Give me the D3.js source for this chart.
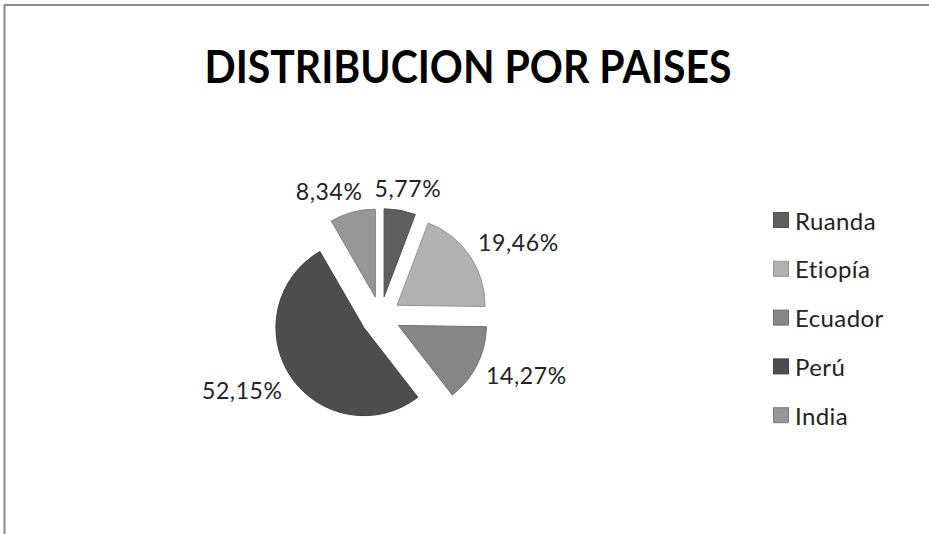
<!DOCTYPE html>
<html>
<head>
<meta charset="utf-8">
<script src="https://cdn.jsdelivr.net/npm/d3@7"></script>
<style>
  body { margin: 0; background: #fff; }
  svg { display: block; font-family: Lato, "Open Sans", sans-serif; }
</style>
</head>
<body>
<div id="chart"></div>
<script>
const countries = ["Ruanda", "Etiopía", "Ecuador", "Perú", "India"]
const shares = [5.77, 19.46, 14.27, 52.15, 8.34]
const fills = ["#5e5e5e", "#b1b1b1", "#868686", "#4d4d4d", "#979797"]
const title = "DISTRIBUCION POR PAISES"

const W = 929, H = 534
const fmt = v => d3.format(".2f")(v).replace(".", ",") + "%"

const svg = d3.select("#chart").append("svg")
    .attr("width", W)
    .attr("height", H)

// chart area frame (right and bottom edges are outside the window)
svg.append("rect")
    .attr("x", 4.5).attr("y", 5)
    .attr("width", W + 20).attr("height", H + 20)
    .attr("fill", "#fff")
    .attr("stroke", "#8a8a8a")
    .attr("stroke-width", 2)

svg.append("text")
    .attr("x", 468).attr("y", 83)
    .attr("text-anchor", "middle")
    .attr("font-weight", "bold")
    .attr("font-size", 46)
    .attr("textLength", 527)
    .attr("lengthAdjust", "spacingAndGlyphs")
    .attr("fill", "#000")
    .text(title)

const data = countries.map((c, i) => ({ name: c, value: shares[i], fill: fills[i] }))

const cx = 380.5, cy = 316.5, r = 88, explode = 20, gap = 10

const pie = d3.pie().sort(null).value(d => d.value)
const arc = d3.arc().innerRadius(0).outerRadius(r)
const arcs = pie(data)

const g = svg.append("g").attr("transform", `translate(${cx},${cy})`)

arcs.forEach(a => {
    const mid = (a.startAngle + a.endAngle) / 2
    a.dir = [Math.sin(mid), -Math.cos(mid)]
    a.off = [a.dir[0] * explode, a.dir[1] * explode]
})

g.selectAll("path.slice").data(arcs)
    .enter().append("path")
    .attr("class", "slice")
    .attr("transform", d => `translate(${d.off[0]},${d.off[1]})`)
    .attr("d", arc)
    .attr("fill", d => d.data.fill)
    .attr("stroke", d => d3.color(d.data.fill).darker(0.5))
    .attr("stroke-width", 1)

const labels = g.selectAll("text.lbl").data(arcs)
    .enter().append("text")
    .attr("class", "lbl")
    .attr("font-size", 23)
    .attr("letter-spacing", 0.6)
    .attr("fill", "#222")
    .attr("text-anchor", "middle")
    .attr("dominant-baseline", "central")
    .text(d => fmt(d.data.value))

// place each label box just outside its slice, box touching the point along the mid angle
const lh = 24
labels.each(function(d) {
    const w = this.getComputedTextLength()
    const m = Math.max(Math.abs(d.dir[0]), Math.abs(d.dir[1]))
    d.w = w
    d.lx = d.off[0] + d.dir[0] * (r + gap) + d.dir[0] / m * w / 2
    d.ly = d.off[1] + d.dir[1] * (r + gap) + d.dir[1] / m * lh / 2
})

// push apart labels that collide
const pad = 12
for (let i = 0; i < arcs.length; i++) {
    for (let j = 0; j < arcs.length; j++) {
        if (i === j) continue
        const a = arcs[i], b = arcs[j]
        if (Math.abs(a.ly - b.ly) >= lh || a.lx > b.lx) continue
        const need = (a.w + b.w) / 2 + pad - (b.lx - a.lx)
        if (need > 0) a.lx -= need
    }
}

labels.attr("x", d => d.lx).attr("y", d => d.ly)

// legend
const legend = svg.append("g").attr("transform", "translate(773,220)")
const rowH = 48.8

const items = legend.selectAll("g").data(data)
    .enter().append("g")
    .attr("transform", (d, i) => `translate(0,${i * rowH})`)

items.append("rect")
    .attr("x", 0.5).attr("y", -7.5)
    .attr("width", 15).attr("height", 15)
    .attr("fill", d => d.fill)
    .attr("stroke", d => d3.color(d.fill).darker(0.5))

items.append("text")
    .attr("x", 22).attr("y", 0)
    .attr("dominant-baseline", "central")
    .attr("font-size", 24)
    .attr("letter-spacing", 0.4)
    .attr("fill", "#222")
    .text(d => d.name)
</script>
</body>
</html>
